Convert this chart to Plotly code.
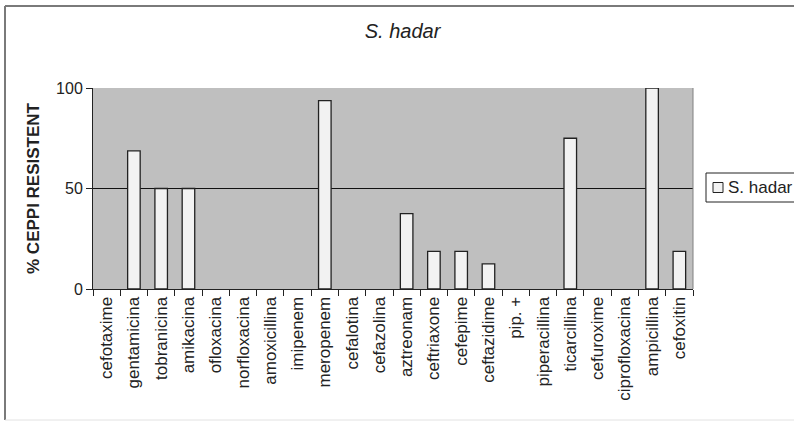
import plotly.graph_objects as go

# Resistance (%) of S. hadar strains to each antibiotic
antibiotics = [
    "cefotaxime", "gentamicina", "tobranicina", "amikacina", "ofloxacina",
    "norfloxacina", "amoxicillina", "imipenem", "meropenem", "cefalotina",
    "cefazolina", "aztreonam", "ceftriaxone", "cefepime", "ceftazidime",
    "pip. +", "piperacillina", "ticarcillina", "cefuroxime", "ciprofloxacina",
    "ampicillina", "cefoxitin",
]
resistant_pct = [
    0, 68.75, 50, 50, 0,
    0, 0, 0, 93.75, 0,
    0, 37.5, 18.75, 18.75, 12.5,
    0, 0, 75, 0, 0,
    100, 18.75,
]
series_name = "S. hadar"
chart_title = "S. hadar"
y_title = "% CEPPI RESISTENT"
y_ticks = [0, 50, 100]

W, H = 794, 426
ML, MR, MT, MB = 93, 101, 88, 137
PW, PH = W - ML - MR, H - MT - MB

def px(x):
    return (x - ML) / PW

def py(y):
    return (H - MB - y) / PH

FONT = "Liberation Sans, Arial, sans-serif"
INK = "#222222"

# empty bars get no outline so they don't leave stubs on the axis
outline_widths = [1.3 if v > 0 else 0 for v in resistant_pct]

fig = go.Figure(
    go.Bar(
        x=antibiotics,
        y=resistant_pct,
        name=series_name,
        width=0.46,
        marker=dict(color="#f2f2f2",
                    line=dict(color="#222222", width=outline_widths)),
        showlegend=False,
    )
)

shapes = [
    # plot-area right edge
    dict(type="line", xref="paper", yref="paper", x0=1, x1=1, y0=0, y1=1,
         line=dict(color="#808080", width=1)),
    # outer chart frame
    dict(type="line", xref="paper", yref="paper", x0=px(5), x1=px(5),
         y0=py(6), y1=py(420), line=dict(color="#7a7a7a", width=2)),
    dict(type="line", xref="paper", yref="paper", x0=px(5), x1=px(800),
         y0=py(6), y1=py(6), line=dict(color="#7a7a7a", width=2)),
    dict(type="line", xref="paper", yref="paper", x0=px(5), x1=px(800),
         y0=py(420), y1=py(420), line=dict(color="#e2e2e2", width=1)),
    # legend box and key
    dict(type="rect", xref="paper", yref="paper", x0=px(706), x1=px(802),
         y0=py(202), y1=py(173), line=dict(color="#222222", width=1),
         fillcolor="white"),
    dict(type="rect", xref="paper", yref="paper", x0=px(713), x1=px(723),
         y0=py(192.5), y1=py(182.5), line=dict(color="#222222", width=1),
         fillcolor="#f2f2f2"),
]

annotations = [
    dict(xref="paper", yref="paper", x=px(726), y=py(187.5), xanchor="left",
         yanchor="middle", text=series_name, showarrow=False,
         font=dict(family=FONT, size=17, color=INK)),
]

fig.update_layout(
    width=W, height=H,
    margin=dict(l=ML, r=MR, t=MT, b=MB, autoexpand=False),
    paper_bgcolor="white",
    plot_bgcolor="#bfbfbf",
    title=dict(text=f"<i>{chart_title}</i>", xref="container", yref="container",
               x=402.5 / W, y=1 - 31 / H, xanchor="center", yanchor="middle",
               font=dict(family=FONT, size=20, color=INK)),
    xaxis=dict(
        type="category", tickson="boundaries", ticks="outside", ticklen=6,
        tickcolor="#222222", tickangle=-90, showgrid=False, showline=True,
        linecolor="#222222", linewidth=1,
        tickfont=dict(family=FONT, size=17, color=INK),
    ),
    yaxis=dict(
        range=[0, 100], tickvals=y_ticks, ticks="outside", ticklen=6,
        tickcolor="#222222", showline=True, linecolor="#222222", linewidth=1,
        showgrid=True, gridcolor="#111111", gridwidth=1, zeroline=False,
        tickfont=dict(family=FONT, size=16, color=INK),
        title=dict(text=f"<b>{y_title}</b>", standoff=12,
                   font=dict(family=FONT, size=17, color=INK)),
    ),
    shapes=shapes,
    annotations=annotations,
    bargap=0.54,
)

fig.write_html("out.html")
